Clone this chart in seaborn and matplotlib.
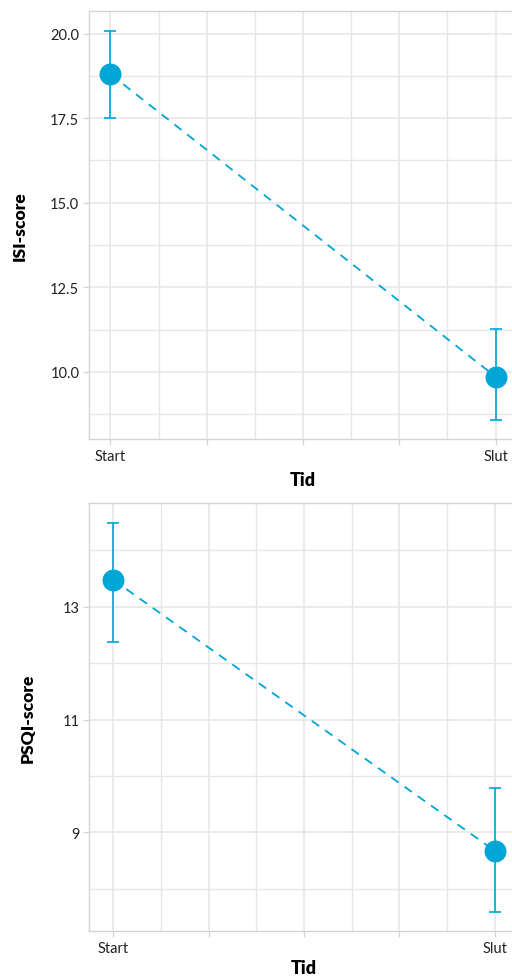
import numpy as np
import matplotlib.pyplot as plt
import pandas as pd
import seaborn as sns
from matplotlib.ticker import FixedLocator

# values
tid = ["Start", "Slut"]
tid_pos = [0, 1]
isi_mean = [18.80, 9.86]
isi_low = [17.50, 8.58]
isi_high = [20.08, 11.28]
psqi_mean = [13.48, 8.67]
psqi_low = [12.38, 7.58]
psqi_high = [14.48, 9.79]

x_ticks = [0, 0.25, 0.5, 0.75, 1]
x_ticklabels = ["Start", "", "", "", "Slut"]
x_minor = [0.125, 0.375, 0.625, 0.875]
isi_ticks = [10, 12.5, 15, 17.5, 20]
isi_minor = [8.75, 11.25, 13.75, 16.25, 18.75]
psqi_ticks = [9, 11, 13]
psqi_minor = [8, 10, 12, 14]

blue = "#00a6d6"
gridc = "#e6e6e6"
spinec = "#d4d4d4"

sns.set_theme(style="white")
plt.rcParams['font.family'] = ['Lato', 'DejaVu Sans']

fig = plt.figure(figsize=(5.12, 9.79), dpi=100)
ax1 = fig.add_axes([89 / 512, 0.5506, 428 / 512, 0.4372])
ax2 = fig.add_axes([89 / 512, 0.0477, 430 / 512, 0.4375])


def panel(ax, mean, low, high, ylabel, yt, ym, ylim, xlim, fmt, labx, xpad):
    df = pd.DataFrame({'tid': tid_pos, 'mean': mean, 'low': low, 'high': high})
    sns.lineplot(data=df, x='tid', y='mean', ax=ax, color=blue, lw=1.3,
                 linestyle=(0, (5, 4)), zorder=2)
    ax.errorbar(df['tid'], df['mean'], yerr=[df['mean'] - df['low'], df['high'] - df['mean']],
                fmt='none', ecolor=blue, elinewidth=1.2, capsize=4.3, capthick=1.2, zorder=3)
    sns.scatterplot(data=df, x='tid', y='mean', ax=ax, s=250, color=blue,
                    edgecolor=blue, linewidth=0, zorder=4)
    ax.set_xlim(xlim)
    ax.set_ylim(ylim)
    ax.xaxis.set_major_locator(FixedLocator(x_ticks))
    ax.set_xticklabels(x_ticklabels)
    ax.xaxis.set_minor_locator(FixedLocator(x_minor))
    ax.yaxis.set_major_locator(FixedLocator(yt))
    ax.yaxis.set_minor_locator(FixedLocator(ym))
    ax.set_yticklabels([fmt.format(v) for v in yt])
    ax.grid(True, which='major', color=gridc, lw=1.1)
    ax.grid(True, which='minor', color=gridc, lw=1.0)
    ax.set_axisbelow(True)
    for s in ax.spines.values():
        s.set_color(spinec)
        s.set_linewidth(1.0)
    ax.tick_params(which='major', bottom=True, left=True, length=4, width=0.9,
                   color=spinec, labelsize=10.5, labelcolor='#222222', pad=3)
    ax.tick_params(which='minor', length=0)
    ax.set_xlabel("Tid", fontsize=13, fontweight='heavy', color='black', labelpad=xpad)
    ax.set_ylabel(ylabel, fontsize=12.5, fontweight='heavy', color='black')
    ax.yaxis.set_label_coords(labx, 0.5)


panel(ax1, isi_mean, isi_low, isi_high, "ISI-score", isi_ticks, isi_minor,
      (8.02, 20.67), (-0.0558, 1.0558), "{:.1f}", -0.143, 6)
panel(ax2, psqi_mean, psqi_low, psqi_high, "PSQI-score", psqi_ticks, psqi_minor,
      (7.245, 14.84), (-0.063, 1.063), "{:.0f}", -0.124, 3)

fig.savefig("out.png", dpi=100)
